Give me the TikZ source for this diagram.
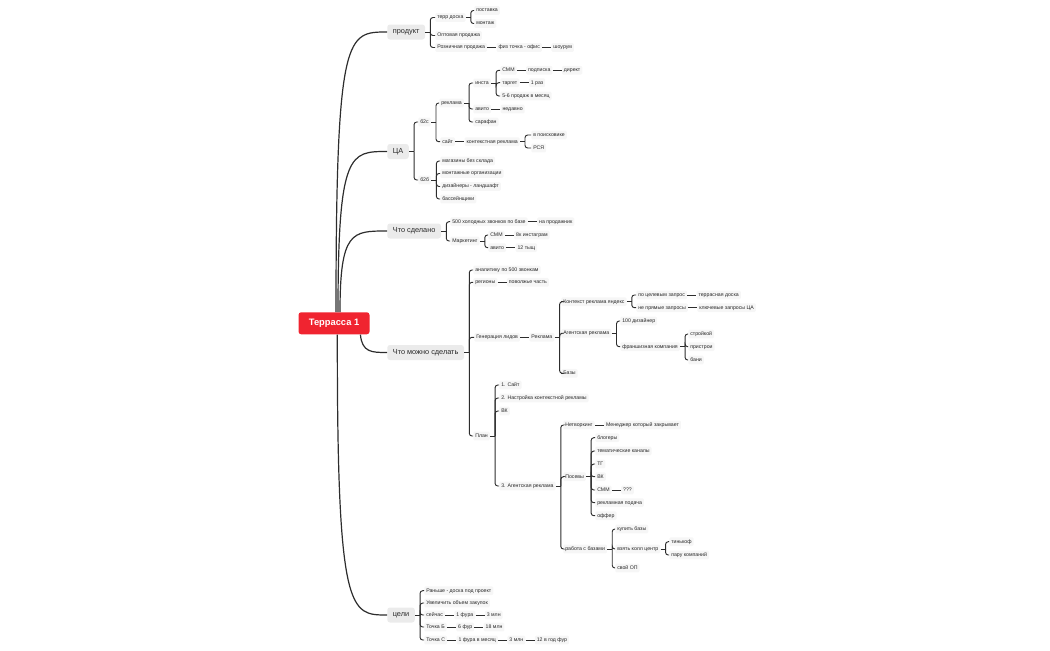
\documentclass[tikz,border=0pt]{standalone}
\usepackage{fontspec}
\setmainfont{Liberation Sans}
\usetikzlibrary{positioning}
\definecolor{rootred}{RGB}{240,36,48}
\definecolor{lonefill}{RGB}{235,235,235}
\definecolor{smfill}{RGB}{246,246,246}
\definecolor{txt}{RGB}{40,40,40}
\definecolor{ln}{RGB}{45,45,45}
\tikzset{
 rootbox/.style={fill=rootred, rounded corners=2pt, text=white, font=\fontsize{7}{8}\selectfont\bfseries, minimum width=53.25pt, minimum height=16.5pt, inner sep=0pt},
 lone/.style={fill=lonefill, rounded corners=2pt, text=txt, font=\fontsize{5.5}{6}\selectfont, minimum height=11.25pt, inner xsep=4.2pt, inner ysep=0pt, anchor=west},
 sm/.style={fill=smfill, rounded corners=1pt, text=txt, font=\fontsize{3.9}{4.5}\selectfont, inner xsep=1.5pt, inner ysep=1.5pt, text height=2.9pt, text depth=0.7pt, anchor=west},
 ch/.style={sm, right=6.75pt of #1},
 cn/.style={draw=ln, line width=0.7pt},
 rc/.style={draw=ln, line width=0.9pt},
}
\newcommand\brk[2]{\path (#1.east) -- ++(5,0) coordinate (tk);
  \draw[cn] (#1.east) -- (tk);
  \foreach \c in {#2} {\draw[cn, rounded corners=2pt] (tk) |- (\c.west);}}
\newcommand\lnk[2]{\draw[cn] (#1.east) -- (#2.west);}
\begin{document}
\begin{tikzpicture}[x=0.75pt,y=-0.75pt]
\useasboundingbox (0,0) rectangle (1050,650);
% root and level 1
\node[rootbox] (root) at (334,323.3) {Террасса 1};
\node[lone] (prod) at (387,32) {продукт};
\node[lone] (ca) at (387,151.5) {ЦА};
\node[lone] (done) at (387,231) {Что сделано};
\node[lone] (cando) at (387,352.5) {Что можно сделать};
\node[lone] (goals) at (387,615) {цели};
\draw[rc] ([xshift=1.5pt]root.north) .. controls (336,32) and (347,32) .. (prod.west);
\draw[rc] ([xshift=3pt]root.north) .. controls (338,151.5) and (350,151.5) .. (ca.west);
\draw[rc] ([xshift=4.5pt]root.north) .. controls (340,231) and (352,231) .. (done.west);
\draw[rc] ([xshift=-7pt]root.south east) .. controls (362,352.5) and (372,352.5) .. (cando.west);
\draw[rc] ([xshift=2.5pt]root.south) .. controls (337,615) and (350,615) .. (goals.west);
% продукт
\node[sm] (t1) at (435,17.5) {терр доска};
\node[sm] (t1a) at (474,10.5) {поставка};
\node[sm] (t1b) at (474,23.5) {монтаж};
\node[sm] (t2) at (435,35.5) {Оптовая продажа};
\node[sm] (t3) at (435,47.5) {Розничная продажа};
\node[ch=t3] (t3a) {физ точка - офис};
\node[ch=t3a] (t3b) {шоурум};
\brk{prod}{t1,t2,t3}
\brk{t1}{t1a,t1b}
\lnk{t3}{t3a}\lnk{t3a}{t3b}
% ЦА
\node[sm] (b2c) at (418,122) {б2с};
\node[sm] (b2b) at (418,180) {б2б};
\node[sm] (r) at (439,103) {реклама};
\node[sm] (r1) at (473,83) {инста};
\node[sm] (r1a) at (500,70.3) {СММ};
\node[ch=r1a] (r1a1) {подписка};
\node[ch=r1a1] (r1a2) {директ};
\node[sm] (r1b) at (500,82.7) {таргет};
\node[ch=r1b] (r1b1) {1 раз};
\node[sm] (r1c) at (500,96) {5-6 продаж в месяц};
\node[sm] (r2) at (473,109) {авито};
\node[ch=r2] (r2a) {недавно};
\node[sm] (r3) at (473,122) {сарафан};
\node[sm] (s) at (440,141.7) {сайт};
\node[ch=s] (s1) {контекстная реклама};
\node[sm] (s1a) at (531,135) {в поисковике};
\node[sm] (s1b) at (531,148) {РСЯ};
\node[sm] (bb1) at (440,161) {магазины без склада};
\node[sm] (bb2) at (440,173.5) {монтажные организации};
\node[sm] (bb3) at (440,186.5) {дизайнеры - ландшафт};
\node[sm] (bb4) at (440,199) {бассейнщики};
\brk{ca}{b2c,b2b}
\brk{b2c}{r,s}
\brk{r}{r1,r2,r3}
\brk{r1}{r1a,r1b,r1c}
\lnk{r1a}{r1a1}\lnk{r1a1}{r1a2}\lnk{r1b}{r1b1}\lnk{r2}{r2a}\lnk{s}{s1}
\brk{s1}{s1a,s1b}
\brk{b2b}{bb1,bb2,bb3,bb4}
% Что сделано
\node[sm] (d1) at (450,221.7) {500 холодных звонков по базе};
\node[ch=d1] (d1a) {на продажник};
\node[sm] (d2) at (450,241) {Маркетинг};
\node[sm] (d2a) at (488,235) {СММ};
\node[ch=d2a] (d2a1) {8к инстаграм};
\node[sm] (d2b) at (488,247.7) {авито};
\node[ch=d2b] (d2b1) {12 тыщ};
\brk{done}{d1,d2}
\brk{d2}{d2a,d2b}
\lnk{d1}{d1a}\lnk{d2a}{d2a1}\lnk{d2b}{d2b1}
% Что можно сделать
\node[sm] (c1) at (473,270) {аналитику по 500 звонкам};
\node[sm] (c2) at (473,282.3) {регионы};
\node[ch=c2] (c2a) {поволжье часть};
\node[sm] (c3) at (474,337.3) {Генерация лидов};
\node[ch=c3] (c3a) {Реклама};
\node[sm] (k1) at (561,301.7) {Контекст реклама яндекс};
\node[sm] (k2) at (561,333.3) {Агентская реклама};
\node[sm] (k3) at (561,373.3) {Базы};
\node[sm] (k1a) at (636,295) {по целевым запрос};
\node[ch=k1a] (k1a1) {террасная доска};
\node[sm] (k1b) at (636,307.7) {не прямые запросы};
\node[ch=k1b] (k1b1) {ключевые запросы ЦА};
\node[sm] (k2a) at (620,321) {100 дизайнер};
\node[sm] (k2b) at (620,346.7) {франшизная компания};
\node[sm] (k2b1) at (688,334) {стройкой};
\node[sm] (k2b2) at (688,346.7) {пристрои};
\node[sm] (k2b3) at (688,360) {бани};
\node[sm] (c4) at (473,436) {План};
\node[sm] (p1) at (499,385) {1. Сайт};
\node[sm] (p2) at (499,398) {2. Настройка контекстной рекламы};
\node[sm] (p3) at (499,411) {ВК};
\node[sm] (p4) at (499,486) {3. Агентская реклама};
\node[sm] (n1) at (563,425) {Нетворкинг};
\node[ch=n1] (n1a) {Менеджер который закрывает};
\node[sm] (n2) at (563,476.7) {Посевы};
\node[sm] (n3) at (563,549) {работа с базами};
\node[sm] (q1) at (595,437.7) {блогеры};
\node[sm] (q2) at (595,451) {тематические каналы};
\node[sm] (q3) at (595,464) {ТГ};
\node[sm] (q4) at (595,476.7) {ВК};
\node[sm] (q5) at (595,490) {СММ};
\node[ch=q5] (q5a) {???};
\node[sm] (q6) at (595,502.7) {рекламная подача};
\node[sm] (q7) at (595,515.7) {оффер};
\node[sm] (w1) at (615,529) {купить базы};
\node[sm] (w2) at (615,549) {взять колл центр};
\node[sm] (w3) at (615,568) {свой ОП};
\node[sm] (w2a) at (669,541.7) {тинькоф};
\node[sm] (w2b) at (669,555) {пару компаний};
\brk{cando}{c1,c2,c3,c4}
\lnk{c2}{c2a}\lnk{c3}{c3a}
\brk{c3a}{k1,k2,k3}
\brk{k1}{k1a,k1b}
\lnk{k1a}{k1a1}\lnk{k1b}{k1b1}
\brk{k2}{k2a,k2b}
\brk{k2b}{k2b1,k2b2,k2b3}
\brk{c4}{p1,p2,p3,p4}
\brk{p4}{n1,n2,n3}
\lnk{n1}{n1a}
\brk{n2}{q1,q2,q3,q4,q5,q6,q7}
\lnk{q5}{q5a}
\brk{n3}{w1,w2,w3}
\brk{w2}{w2a,w2b}
% цели
\node[sm] (g1) at (424,590.7) {Раньше - доска под проект};
\node[sm] (g2) at (424,603) {Увеличить объем закупок};
\node[sm] (g3) at (424,615) {сейчас};
\node[ch=g3] (g3a) {1 фура};
\node[ch=g3a] (g3b) {3 млн};
\node[sm] (g4) at (424,627) {Точка Б};
\node[ch=g4] (g4a) {6 фур};
\node[ch=g4a] (g4b) {18 млн};
\node[sm] (g5) at (424,640) {Точка С};
\node[ch=g5] (g5a) {1 фура в месяц};
\node[ch=g5a] (g5b) {3 млн};
\node[ch=g5b] (g5c) {12 в год фур};
\brk{goals}{g1,g2,g3,g4,g5}
\lnk{g3}{g3a}\lnk{g3a}{g3b}\lnk{g4}{g4a}\lnk{g4a}{g4b}
\lnk{g5}{g5a}\lnk{g5a}{g5b}\lnk{g5b}{g5c}
\end{tikzpicture}
\end{document}
